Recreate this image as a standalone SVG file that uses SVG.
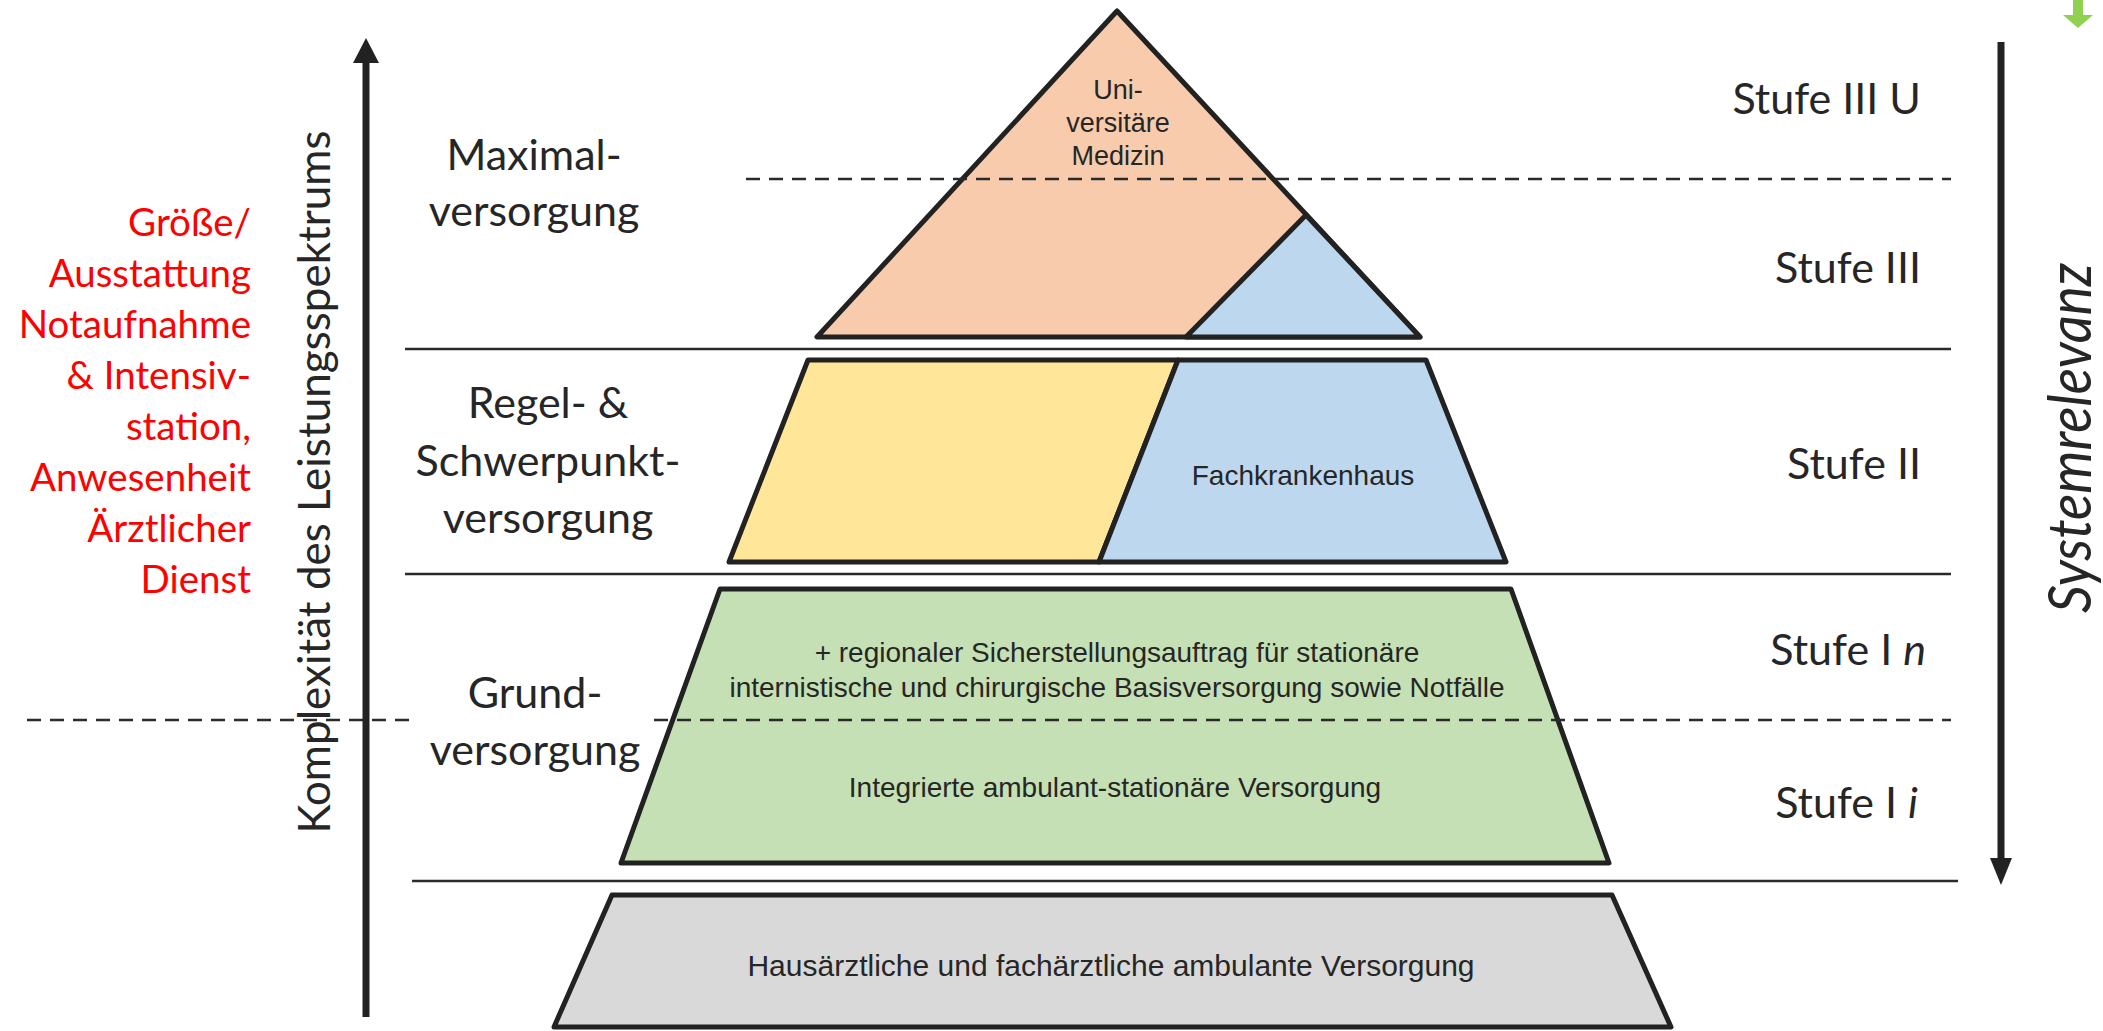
<svg xmlns="http://www.w3.org/2000/svg" width="2103" height="1031" viewBox="0 0 2103 1031">
<style>
.shape{stroke:#222;stroke-width:5;stroke-linejoin:round}
.sep{stroke:#2a2a2a;stroke-width:2.6;fill:none}
.dash{stroke:#2a2a2a;stroke-width:2.6;fill:none;stroke-dasharray:14 9}
.arrow{stroke:#222;stroke-width:7;fill:none}
.head{fill:#222}
.inner{font-family:"Liberation Sans",Arial,sans-serif;font-size:28px;fill:#262626;text-anchor:middle}
.lbl{font-family:Lato,"Open Sans",sans-serif;font-size:43px;fill:#262626;text-anchor:middle}
.stufe{font-family:Lato,"Open Sans",sans-serif;font-size:43px;fill:#262626;text-anchor:end}
.red{font-family:Lato,"Open Sans",sans-serif;font-size:38.5px;fill:#ff0000;text-anchor:end}
</style>
<rect width="2103" height="1031" fill="#fff"/>
<g id="stufe3">
<polygon class="shape" fill="#f8cbad" points="1117,11 817,337 1420,337"/>
<polygon class="shape" fill="#bdd7ee" points="1306,215 1186,337 1420,337"/>
<text class="inner" style="font-size:27px" x="1118" y="99">Uni-</text>
<text class="inner" style="font-size:27px" x="1118" y="132">versitäre</text>
<text class="inner" style="font-size:27px" x="1118" y="165">Medizin</text>
</g>
<g id="stufe2">
<polygon class="shape" fill="#ffe699" points="808,360 1178,360 1099,562 729,562"/>
<polygon class="shape" fill="#bdd7ee" points="1178,360 1426,360 1506,562 1099,562"/>
<text class="inner" x="1303" y="485">Fachkrankenhaus</text>
</g>
<g id="stufe1">
<polygon class="shape" fill="#c5e0b4" points="720,589 1511,589 1609,863 621,863"/>
<text class="inner" x="1117" y="662">+ regionaler Sicherstellungsauftrag für stationäre</text>
<text class="inner" x="1117" y="697">internistische und chirurgische Basisversorgung sowie Notfälle</text>
<text class="inner" x="1115" y="797">Integrierte ambulant-stationäre Versorgung</text>
</g>
<g id="ambulant">
<polygon class="shape" fill="#d9d9d9" points="612,895 1612,895 1671,1027 554,1027"/>
<text class="inner" style="font-size:30px" x="1111" y="976">Hausärztliche und fachärztliche ambulante Versorgung</text>
</g>
<g id="lines">
<line class="sep" x1="405" y1="349" x2="1951" y2="349"/>
<line class="sep" x1="405" y1="574" x2="1951" y2="574"/>
<line class="sep" x1="412" y1="881" x2="1958" y2="881"/>
<line class="dash" x1="746" y1="179" x2="1951" y2="179"/>
<line class="dash" x1="27" y1="720" x2="409" y2="720"/>
<line class="dash" x1="654" y1="720" x2="1951" y2="720"/>
</g>
<g id="connectors">
<line class="arrow" x1="366" y1="1017" x2="366" y2="58"/>
<polygon class="head" points="366,38 353,63 379,63"/>
<line class="arrow" x1="2001" y1="42" x2="2001" y2="864"/>
<polygon class="head" points="2001,885 1990,858 2012,858"/>
<polygon fill="#92d050" points="2073,0 2083,0 2083,15 2093,15 2078,28 2063,15 2073,15"/>
</g>
<g id="labels-left">
<text class="red" x="251" y="236">Größe/</text>
<text class="red" x="251" y="287">Ausstattung</text>
<text class="red" x="251" y="338">Notaufnahme</text>
<text class="red" x="251" y="389">&amp; Intensiv-</text>
<text class="red" x="251" y="440">station,</text>
<text class="red" x="251" y="491">Anwesenheit</text>
<text class="red" x="251" y="542">Ärztlicher</text>
<text class="red" x="251" y="593">Dienst</text>
<text class="lbl" style="font-size:44px" transform="translate(330,482) rotate(-90)">Komplexität des Leistungsspektrums</text>
</g>
<g id="labels-levels">
<text class="lbl" x="534" y="170">Maximal-</text>
<text class="lbl" x="534" y="226">versorgung</text>
<text class="lbl" x="548" y="418">Regel- &amp;</text>
<text class="lbl" x="548" y="476">Schwerpunkt-</text>
<text class="lbl" x="548" y="533">versorgung</text>
<text class="lbl" x="535" y="708">Grund-</text>
<text class="lbl" x="535" y="765">versorgung</text>
</g>
<g id="labels-right">
<text class="stufe" x="1921" y="114">Stufe III U</text>
<text class="stufe" x="1921" y="283">Stufe III</text>
<text class="stufe" x="1921" y="479">Stufe II</text>
<text class="stufe" x="1926" y="665">Stufe I <tspan font-style="italic">n</tspan></text>
<text class="stufe" x="1918" y="818">Stufe I <tspan font-style="italic">i</tspan></text>
<text class="lbl" style="font-size:60px;font-style:italic" textLength="350" lengthAdjust="spacingAndGlyphs" transform="translate(2091,438) rotate(-90)">Systemrelevanz</text>
</g>
</svg>
